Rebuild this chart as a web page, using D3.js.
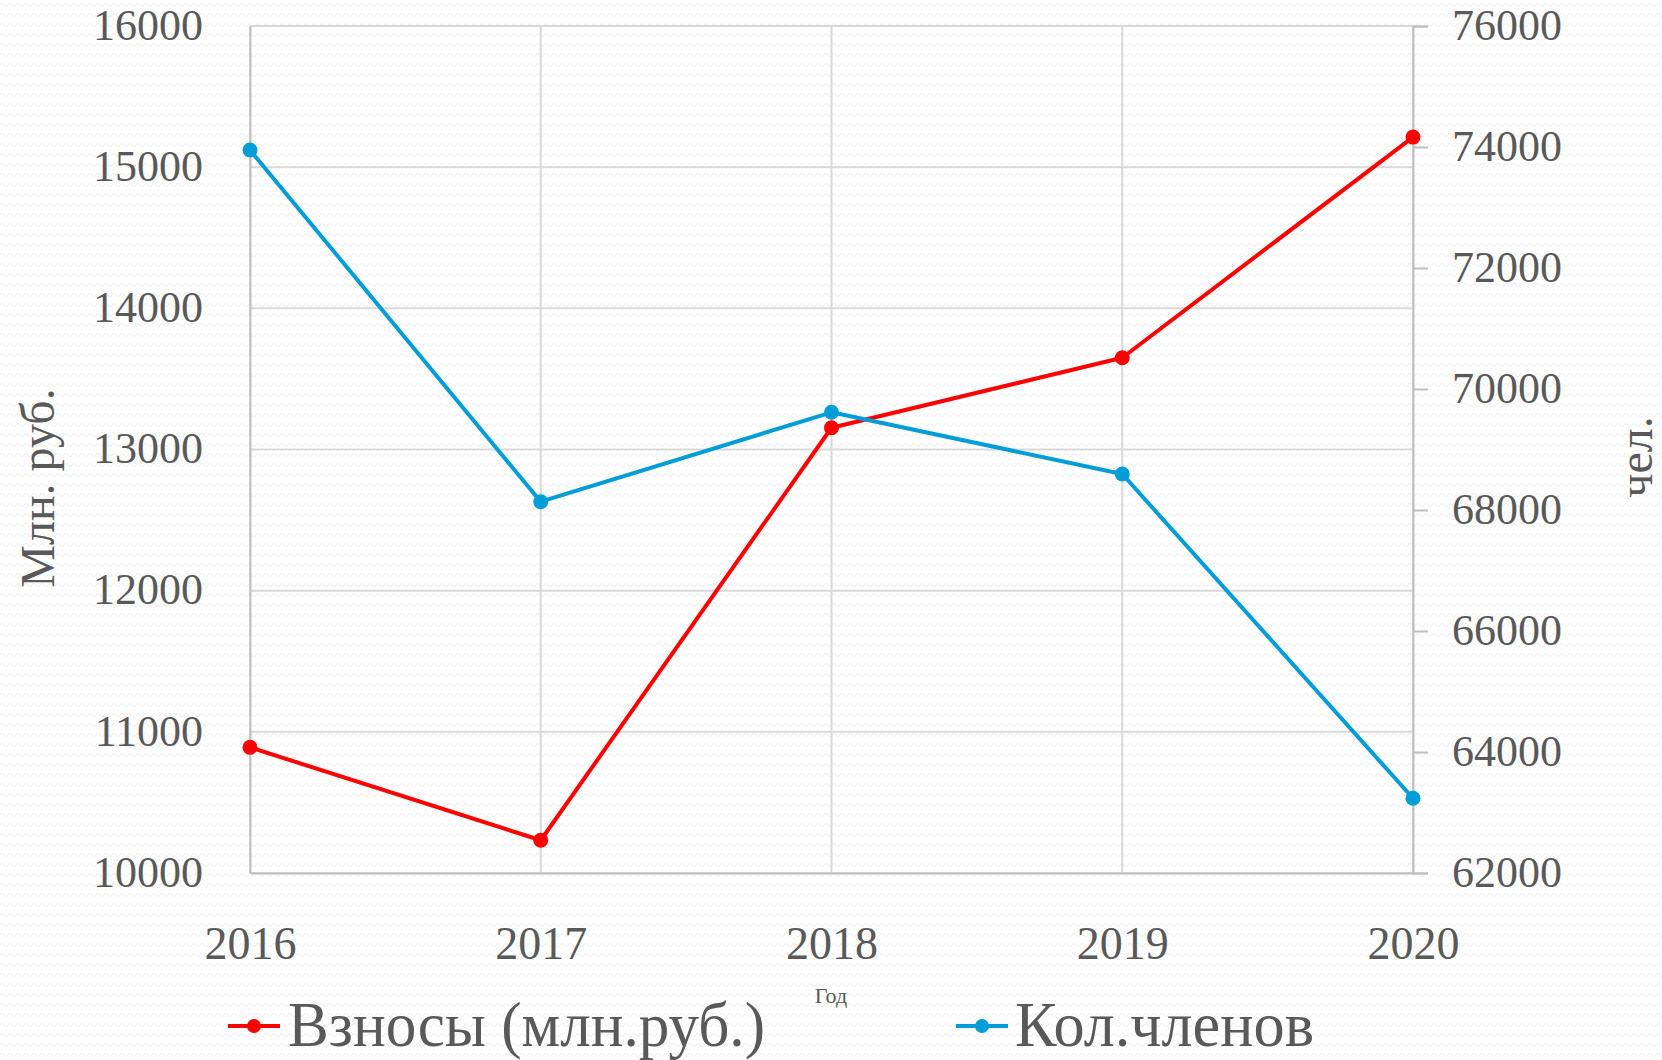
<!DOCTYPE html>
<html>
<head>
<meta charset="utf-8">
<script src="https://cdn.jsdelivr.net/npm/d3@7"></script>
<style>
  html, body { margin: 0; padding: 0; background: #fff; }
  svg { display: block; }
  text { font-family: 'Liberation Serif', 'DejaVu Serif', serif; fill: #595959; }
</style>
</head>
<body>
<div id="chart"></div>
<script>
const years = ['2016', '2017', '2018', '2019', '2020']
const contributions = [10890, 10232, 13154, 13650, 15213]   // Взносы (млн.руб.)
const members = [73950, 68137, 69615, 68595, 63235]         // Кол.членов
const leftTicks = [10000, 11000, 12000, 13000, 14000, 15000, 16000]
const rightTicks = [62000, 64000, 66000, 68000, 70000, 72000, 74000, 76000]

const width = 1662
const height = 1060
const margin = { top: 26, right: 249, bottom: 187, left: 250 }

const svg = d3.select('#chart')
  .append('svg')
  .attr('width', width)
  .attr('height', height)

// faint zigzag background texture
const defs = svg.append('defs')
const pat = defs.append('pattern')
  .attr('id', 'zigzag')
  .attr('width', 8)
  .attr('height', 10)
  .attr('patternUnits', 'userSpaceOnUse')
pat.append('path')
  .attr('d', 'M0,5 Q2,2 4,5 T8,5')
  .attr('fill', 'none')
  .attr('stroke', '#efefef')
  .attr('stroke-width', 1.2)

svg.append('rect')
  .attr('width', width)
  .attr('height', height)
  .attr('fill', '#fff')
svg.append('rect')
  .attr('width', width)
  .attr('height', height)
  .attr('fill', 'url(#zigzag)')

const x = d3.scalePoint()
  .domain(years)
  .range([margin.left, width - margin.right])

const yLeft = d3.scaleLinear()
  .domain([10000, 16000])
  .range([height - margin.bottom, margin.top])

const yRight = d3.scaleLinear()
  .domain([62000, 76000])
  .range([height - margin.bottom, margin.top])

// horizontal gridlines
svg.append('g')
  .selectAll('line')
  .data(leftTicks)
  .enter()
  .append('line')
  .attr('x1', margin.left)
  .attr('x2', width - margin.right)
  .attr('y1', d => yLeft(d))
  .attr('y2', d => yLeft(d))
  .attr('stroke', '#d9d9d9')
  .attr('stroke-width', 2)

// vertical gridlines
svg.append('g')
  .selectAll('line')
  .data(years)
  .enter()
  .append('line')
  .attr('x1', d => x(d))
  .attr('x2', d => x(d))
  .attr('y1', margin.top)
  .attr('y2', height - margin.bottom)
  .attr('stroke', '#d9d9d9')
  .attr('stroke-width', 2)

// left axis
const leftAxis = svg.append('g')
  .attr('transform', `translate(${margin.left},0)`)
  .call(d3.axisLeft(yLeft).tickValues(leftTicks).tickSize(0).tickPadding(47).tickFormat(d3.format('d')))
leftAxis.select('.domain').attr('stroke', '#bfbfbf').attr('stroke-width', 2)
leftAxis.selectAll('text')
  .attr('font-size', 44)
  .attr('fill', '#595959')
  .attr('dy', '0.3em')
  .style('font-family', "'Liberation Serif', serif")

// right axis
const rightAxis = svg.append('g')
  .attr('transform', `translate(${width - margin.right},0)`)
  .call(d3.axisRight(yRight).tickValues(rightTicks).tickSize(15).tickPadding(24).tickFormat(d3.format('d')))
rightAxis.select('.domain').attr('stroke', '#bfbfbf').attr('stroke-width', 2)
rightAxis.selectAll('.tick line').attr('stroke', '#bfbfbf').attr('stroke-width', 2)
rightAxis.selectAll('text')
  .attr('font-size', 44)
  .attr('fill', '#595959')
  .attr('dy', '0.3em')
  .style('font-family', "'Liberation Serif', serif")

// bottom axis
const bottomAxis = svg.append('g')
  .attr('transform', `translate(0,${height - margin.bottom})`)
  .call(d3.axisBottom(x).tickSize(0).tickPadding(53))
bottomAxis.select('.domain').attr('stroke', '#bfbfbf').attr('stroke-width', 2)
bottomAxis.selectAll('text')
  .attr('font-size', 46)
  .attr('fill', '#595959')
  .style('font-family', "'Liberation Serif', serif")

// axis titles
svg.append('text')
  .attr('transform', 'translate(54,488) rotate(-90)')
  .attr('text-anchor', 'middle')
  .attr('font-size', 48)
  .text('Млн. руб.')

svg.append('text')
  .attr('transform', 'translate(1652,457) rotate(-90)')
  .attr('text-anchor', 'middle')
  .attr('font-size', 48)
  .text('чел.')

svg.append('text')
  .attr('x', 831)
  .attr('y', 1003)
  .attr('text-anchor', 'middle')
  .attr('font-size', 22)
  .text('Год')

// series lines
const series = [
  { name: 'Взносы (млн.руб.)', values: contributions, y: yLeft, color: '#ff0000' },
  { name: 'Кол.членов', values: members, y: yRight, color: '#009dd9' }
]

series.forEach(s => {
  const line = d3.line()
    .x((d, i) => x(years[i]))
    .y(d => s.y(d))

  svg.append('path')
    .datum(s.values)
    .attr('d', line)
    .attr('fill', 'none')
    .attr('stroke', s.color)
    .attr('stroke-width', 4)
    .attr('stroke-linejoin', 'round')

  svg.append('g')
    .selectAll('circle')
    .data(s.values)
    .enter()
    .append('circle')
    .attr('cx', (d, i) => x(years[i]))
    .attr('cy', d => s.y(d))
    .attr('r', 7.5)
    .attr('fill', s.color)
})

// legend
const legendItems = [
  { x0: 228, textX: 288, textLen: 477, s: series[0] },
  { x0: 956, textX: 1015, textLen: 299, s: series[1] }
]
const legendY = 1026

legendItems.forEach(item => {
  const g = svg.append('g')
  g.append('line')
    .attr('x1', item.x0)
    .attr('x2', item.x0 + 52)
    .attr('y1', legendY)
    .attr('y2', legendY)
    .attr('stroke', item.s.color)
    .attr('stroke-width', 4)
  g.append('circle')
    .attr('cx', item.x0 + 26)
    .attr('cy', legendY)
    .attr('r', 7)
    .attr('fill', item.s.color)
  g.append('text')
    .attr('x', item.textX)
    .attr('y', legendY + 20)
    .attr('font-size', 64)
    .attr('textLength', item.textLen)
    .attr('lengthAdjust', 'spacingAndGlyphs')
    .text(item.s.name)
})
</script>
</body>
</html>
